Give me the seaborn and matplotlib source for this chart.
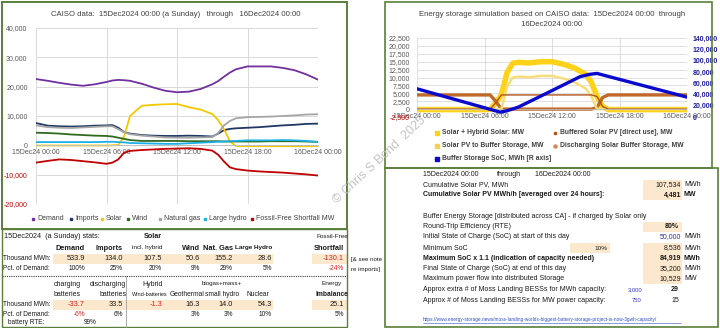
import numpy as np
import pandas as pd
import matplotlib
matplotlib.use("Agg")
import matplotlib.pyplot as plt
import seaborn as sns
from matplotlib.patches import Rectangle
from matplotlib.lines import Line2D

sns.set_theme(style="white")
plt.rcParams['font.family'] = ['Liberation Sans', 'DejaVu Sans']

# ---------------- data: left chart (CAISO, MW) ----------------
hours_l = [0, 1, 2, 3, 4, 5, 6, 6.5, 7, 7.5, 8, 9, 10, 11, 12, 13, 14, 15, 15.5, 16, 16.5,
           17, 18, 19, 20, 21, 22, 23, 24]
demand = [22600, 22000, 21300, 20700, 20300, 20800, 21600, 22100, 22300, 22200, 22000, 21000,
          19700, 18600, 18100, 18300, 19200, 20800, 21900, 23400, 24800, 25900, 26900, 26900,
          26900, 26400, 25600, 24200, 22400]
imports = [7600, 6700, 6500, 6400, 6500, 6700, 6800, 6900, 6000, 4500, 4000, 3500, 3300, 3200,
           3200, 3300, 3200, 3000, 4000, 5200, 5600, 5800, 6000, 6200, 6500, 6800, 7000, 7300, 7400]
solar = [-50, -50, -50, -50, -50, -50, -50, 0, 100, 3000, 10000, 13500, 13800, 14000, 14100,
         13000, 12200, 10700, 8600, 5500, 1400, -200, -300, -300, -300, -300, -300, -300, -300]
wind = [4300, 4200, 4000, 3700, 3500, 3300, 3200, 3000, 2600, 2200, 1800, 1500, 1500, 1500, 1500,
        1400, 1400, 1400, 1400, 1300, 1300, 1300, 1300, 1300, 1400, 1400, 1400, 1300, 1200]
natgas = [6800, 6200, 6000, 5900, 6100, 6300, 6500, 6500, 5500, 4500, 3800, 3300, 3000, 2700,
          2600, 2600, 2700, 2800, 4200, 6800, 8300, 9200, 9600, 9700, 9800, 10000, 10200, 10500, 10600]
hydro = [1100, 1100, 1100, 1100, 1100, 1100, 1200, 1200, 1100, 1000, 800, 700, 600, 500, 500,
         700, 900, 1100, 1200, 1300, 1400, 1500, 1700, 1700, 1700, 1800, 1700, 1500, 1100]
shortfall = [-5900, -5300, -4800, -5000, -5400, -5800, -6300, -5900, -4800, -2500, -1900, -1600,
             -1400, -1200, -1100, -1000, -1200, -1800, -3200, -5500, -7500, -8100, -8600, -8900,
             -9100, -9300, -9600, -9900, -10300]
left_names = ["Demand", "Imports", "Solar", "Wind", "Natural gas", "Large hydro",
              "Fossil-Free Shortfall MW"]
left_colors = ["#7030A0", "#1F3864", "#F5C800", "#2E6B1F", "#A6A6A6", "#1CB0E8", "#C00000"]

# ---------------- data: right chart (storage simulation) ----------------
hours_r = [0, 2, 4, 6, 6.5, 7, 7.5, 8, 8.5, 9, 10, 11, 12, 13, 14, 15, 15.5, 16, 16.5, 17, 18,
           20, 22, 24]
solar_hybrid = [-150, -150, -150, -150, -100, 2000, 4500, 11500, 14500, 14800, 14600, 15000,
                15000, 14200, 13000, 11000, 8500, 4000, 800, -150, -150, -150, -150, -150]
buffered_direct = [0, 0, 0, 0, 0, 2000, 4481, 4481, 4481, 4481, 4481, 4481, 4481, 4481, 4481,
                   4481, 4481, 4000, 800, 0, 0, 0, 0, 0]
to_buffer = [0, 0, 0, 0, 0, 0, 0, 7000, 10000, 10300, 10100, 10500, 10500, 9700, 8500, 6500,
             4000, 0, 0, 0, 0, 0, 0, 0]
discharging = [4481, 4481, 4481, 4481, 4481, 2481, 0, 0, 0, 0, 0, 0, 0, 0, 0, 0, 0, 481, 3681,
               4481, 4481, 4481, 4481, 4481]
soc_hours = [0, 7.4, 8.0, 9.0, 10.9, 12.7, 14.5, 15.3, 16.0, 24]
soc = [50000, 8536, 11000, 17500, 36000, 53700, 71500, 75500, 77200, 35200]

xtick_labels = ["15Dec24 00:00", "15Dec24 06:00", "15Dec24 12:00", "15Dec24 18:00",
                "16Dec24 00:00"]

W, H = 720, 328
fig = plt.figure(figsize=(7.2, 3.28), dpi=100)
fig.patch.set_facecolor("white")


def fx(x):
    return x / W


def fy(y):
    return 1 - y / H


def txt(x, y, s, ha="left", size=5, weight="normal", color="#1A1A1A", **kw):
    fig.text(fx(x), fy(y), s, ha=ha, va="center", fontsize=size, fontweight=weight,
             color=color, **kw)


def rect(x0, y0, x1, y1, **kw):
    fig.add_artist(Rectangle((fx(x0), fy(y1)), (x1 - x0) / W, (y1 - y0) / H,
                             transform=fig.transFigure, **kw))


def hline(x0, x1, y, **kw):
    fig.add_artist(Line2D([fx(x0), fx(x1)], [fy(y), fy(y)], transform=fig.transFigure, **kw))


def vline(x, y0, y1, **kw):
    fig.add_artist(Line2D([fx(x), fx(x)], [fy(y0), fy(y1)], transform=fig.transFigure, **kw))


GRID = "#D9D9D9"
TICK = "#595959"
FRAME = "#5A7F3A"

# ================= left chart =================
ax1 = fig.add_axes([fx(36), fy(204), (318 - 36) / W, (204 - 28) / H])
rows = []
for name, vals in zip(left_names, [demand, imports, solar, wind, natgas, hydro, shortfall]):
    for h, v in zip(hours_l, vals):
        rows.append((name, h, v))
df_l = pd.DataFrame(rows, columns=["series", "hour", "MW"])
sns.lineplot(data=df_l, x="hour", y="MW", hue="series", hue_order=left_names,
             palette=dict(zip(left_names, left_colors)), linewidth=1.3, legend=False,
             ax=ax1, estimator=None)
ax1.set_xlim(0, 24)
ax1.set_ylim(-20000, 40000)
ax1.set_xticks([0, 6, 12, 18, 24])
ax1.set_xticklabels(xtick_labels)
yt = list(range(-20000, 40001, 10000))
ax1.set_yticks(yt)
ax1.set_yticklabels([f"{v:,}" for v in yt])
for lab, v in zip(ax1.get_yticklabels(), yt):
    lab.set_color("#C00000" if v < 0 else TICK)
ax1.set_xlabel("")
ax1.set_ylabel("")
ax1.grid(True, color=GRID, linewidth=0.7)
ax1.set_axisbelow(True)
for s in ["top", "right", "left"]:
    ax1.spines[s].set_visible(False)
ax1.spines["bottom"].set_position(("data", 0))
ax1.spines["bottom"].set_color("#BFBFBF")
ax1.spines["bottom"].set_linewidth(0.7)
ax1.tick_params(axis="x", length=0, pad=3, labelsize=5, labelcolor=TICK)
ax1.tick_params(axis="y", length=0, pad=6, labelsize=5)
txt(176, 14, "CAISO data:  15Dec2024 00:00 (a Sunday)   through   16Dec2024 00:00", ha="center",
    size=5.6, color="#404040")

# left legend (manual, Excel-like bullets)
leg_x = [33, 71, 102, 128, 160, 205, 252]
for x, name, c in zip(leg_x, left_names, left_colors):
    fig.add_artist(Line2D([fx(x)], [fy(219)], marker="s", markersize=2, color=c, linestyle="none",
                          transform=fig.transFigure))
    txt(x + 4, 219, name, size=5, color="#404040")

rect(2, 2, 347, 229, fill=False, edgecolor=FRAME, linewidth=1.4)

# ================= left table =================
SHADE = "#FCE8CC"
RED = "#E02020"
cols = [85, 123, 162, 200, 233, 272, 344]
rect(53, 254, 273, 264, facecolor=SHADE, edgecolor="none")
rect(312, 254, 347, 264, facecolor=SHADE, edgecolor="none")
rect(53, 300, 273, 310, facecolor=SHADE, edgecolor="none")
rect(312, 300, 347, 310, facecolor=SHADE, edgecolor="none")

txt(4, 237, "15Dec2024  (a Sunday) stats:", size=5.2)
txt(153, 237, "Solar", ha="center", size=5.2, weight="bold")
txt(332, 237, "Fossil-Free", ha="center", size=4.6)
heads = ["Demand", "Imports", "incl. hybrid", "Wind", "Nat. Gas", "Large Hydro", "Shortfall"]
for c, h in zip(cols, heads):
    if h == "incl. hybrid":
        txt(c, 248, h, ha="right", size=4.6)
    elif h == "Large Hydro":
        txt(c, 248, h, ha="right", size=4.6, weight="bold")
    else:
        txt(c, 248, h, ha="right", size=5.3, weight="bold")
vals1 = ["533.9", "134.0", "107.5", "50.6", "155.2", "28.6", "-130.1"]
pct1 = ["100%", "25%", "20%", "9%", "29%", "5%", "-24%"]
txt(3, 259, "Thousand MWh:", size=4.7)
txt(3, 269, "Pct. of Demand:", size=4.7)
for c, v in zip(cols, vals1):
    txt(c, 259, v, ha="right", size=5.3, color=RED if v.startswith("-") else "#1A1A1A")
for c, v in zip(cols, pct1):
    txt(c, 269, v, ha="right", size=4.7, color=RED if v.startswith("-") else "#1A1A1A")
txt(351, 259, "[& see note", size=4.4)
txt(351, 269, "re imports]", size=4.4)
hline(2, 347, 276, linestyle=(0, (1, 1)), color="#404040", linewidth=0.8)
vline(126, 276, 328, color="#A0A0A0", linewidth=0.6)

txt(67, 284, "charging", ha="center", size=5)
txt(108, 284, "discharging", ha="center", size=5)
txt(153, 284, "Hybrid", ha="center", size=5)
txt(222, 284, "biogas+mass+", ha="center", size=4.4)
txt(332, 284, "Energy", ha="center", size=4.6)
txt(67, 295, "batteries", ha="center", size=5)
txt(113, 295, "batteries", ha="center", size=5)
txt(150, 295, "Wind-batteries", ha="center", size=4.0)
txt(187, 295, "Geothermal", ha="center", size=4.8)
txt(222, 295, "small hydro", ha="center", size=4.8)
txt(258, 295, "Nuclear", ha="center", size=4.8)
txt(332, 295, "Imbalance", ha="center", size=4.8, weight="bold")
vals2 = ["-33.7", "33.5", "-1.3", "16.3", "14.0", "54.3", "25.1"]
pct2 = ["-6%", "6%", "", "3%", "3%", "10%", "5%"]
txt(3, 305, "Thousand MWh:", size=4.7)
txt(3, 315, "Pct. of Demand:", size=4.7)
for c, v in zip(cols, vals2):
    txt(c, 305, v, ha="right", size=5.3, color=RED if v.startswith("-") else "#1A1A1A")
for c, v in zip(cols, pct2):
    txt(c, 315, v, ha="right", size=4.7, color=RED if v.startswith("-") else "#1A1A1A")
txt(8, 323, "battery RTE:", size=4.7)
txt(90, 323, "99%", ha="center", size=4.7)
rect(2, 229, 347, 327, fill=False, edgecolor=FRAME, linewidth=1.0)

# ================= right chart =================
ax2 = fig.add_axes([fx(417), fy(117), (687 - 417) / W, (117 - 38) / H])
right_names = ["Solar + Hybrid Solar: MW", "Buffered Solar PV [direct use], MW",
               "Solar PV to Buffer Storage, MW", "Discharging Solar Buffer Storage, MW"]
right_colors = ["#FFD21A", "#B0561A", "#F8DE7A", "#C0692A"]
right_lw = [4.0, 1.0, 1.8, 2.4]
rrows = []
for name, vals in zip(right_names, [solar_hybrid, buffered_direct, to_buffer, discharging]):
    for h, v in zip(hours_r, vals):
        rrows.append((name, h, v))
df_r = pd.DataFrame(rrows, columns=["series", "hour", "MW"])
draw_order = [0, 3, 2, 1]
for i in draw_order:
    sub = df_r[df_r["series"] == right_names[i]]
    sns.lineplot(data=sub, x="hour", y="MW", color=right_colors[i], linewidth=right_lw[i],
                 ax=ax2, legend=False, estimator=None)
ax2.set_xlim(0, 24)
ax2.set_ylim(-2500, 22500)
ax2.set_xticks([0, 6, 12, 18, 24])
ax2.set_xticklabels(xtick_labels)
yt2 = list(range(-2500, 22501, 2500))
ax2.set_yticks(yt2)
ax2.set_yticklabels([f"{v:,}" for v in yt2])
for lab, v in zip(ax2.get_yticklabels(), yt2):
    lab.set_color("#C00000" if v < 0 else TICK)
ax2.set_xlabel("")
ax2.set_ylabel("")
ax2.grid(True, color=GRID, linewidth=0.6)
ax2.set_axisbelow(True)
for s in ["top", "right", "left"]:
    ax2.spines[s].set_visible(False)
ax2.spines["bottom"].set_position(("data", 0))
ax2.spines["bottom"].set_color("#BFBFBF")
ax2.spines["bottom"].set_linewidth(0.6)
ax2.tick_params(axis="x", length=0, pad=3, labelsize=5, labelcolor=TICK)
ax2.tick_params(axis="y", length=0, pad=5, labelsize=5)

ax2r = ax2.twinx()
df_soc = pd.DataFrame({"hour": soc_hours, "SoC": soc})
sns.lineplot(data=df_soc, x="hour", y="SoC", color="#0A0ACD", linewidth=2.4, ax=ax2r,
             legend=False, estimator=None)
ax2r.set_ylim(0, 140000)
yt3 = list(range(0, 140001, 20000))
ax2r.set_yticks(yt3)
ax2r.set_yticklabels([f"{v:,}" for v in yt3])
ax2r.set_ylabel("")
ax2r.grid(False)
for s in ax2r.spines.values():
    s.set_visible(False)
ax2r.tick_params(axis="y", length=0, pad=4, labelsize=5, labelcolor="#1E1E9A")
for lab in ax2r.get_yticklabels():
    lab.set_fontweight("bold")

txt(552, 14, "Energy storage simulation based on CAISO data:  15Dec2024 00:00  through",
    ha="center", size=5.6, color="#404040")
txt(552, 24, "16Dec2024 00:00", ha="center", size=5.6, color="#404040")

leg_items = [(437, 133, right_names[0], "#FFD21A", "s", 3.2),
             (555, 133, right_names[1], "#B0561A", "s", 1.5),
             (437, 146, right_names[2], "#F8D050", "s", 2.2),
             (555, 146, right_names[3], "#D08A5A", "o", 2.2),
             (437, 159, "Buffer Storage SoC, MWh [R axis]", "#0A0ACD", "s", 2.2)]
for x, y, name, c, m, ms in leg_items:
    fig.add_artist(Line2D([fx(x)], [fy(y)], marker=m, markersize=ms, color=c, linestyle="none",
                          transform=fig.transFigure))
    txt(x + 5, y, name, size=4.9, weight="bold", color="#404040")

rect(385, 2, 712, 168, fill=False, edgecolor=FRAME, linewidth=1.2)

# ================= right table =================
rx = 423
vr = 681
ur = 684
shade_rows = [185, 195, 227, 248, 258.5, 268.5, 279]
for y in shade_rows:
    rect(643, y - 5.2, 682, y + 5.2, facecolor=SHADE, edgecolor="none")
rect(570, 248 - 5.2, 610, 248 + 5.2, facecolor=SHADE, edgecolor="none")

txt(rx, 174, "15Dec2024 00:00", size=5)
txt(497, 174, "through", size=5)
txt(535, 174, "16Dec2024 00:00", size=5)
txt(rx, 185, "Cumulative Solar PV, MWh", size=5)
txt(vr, 185, "107,534", ha="right", size=5)
txt(ur, 185, "MWh", size=5)
txt(rx, 195, "Cumulative Solar PV MWh/h [averaged over 24 hours]:", size=5, weight="bold")
txt(vr, 195, "4,481", ha="right", size=5, weight="bold")
txt(ur, 195, "MW", size=5, weight="bold")
txt(rx, 217, "Buffer Energy Storage [distributed across CA] - if charged by Solar only", size=5)
txt(rx, 227, "Round-Trip Efficiency (RTE)", size=5)
txt(vr - 2, 227, "80%", ha="right", size=5, weight="bold")
txt(rx, 237, "Initial State of Charge (SoC) at start of this day", size=5)
txt(vr, 237, "50,000", ha="right", size=5, color="#2E2EA8")
txt(ur, 237, "MWh", size=5)
txt(rx, 248, "Minimum SoC", size=5)
txt(607, 248, "10%", ha="right", size=4.6)
txt(vr, 248, "8,536", ha="right", size=5)
txt(ur, 248, "MWh", size=5)
txt(rx, 258.5, "Maximum SoC x 1.1 (indication of capacity needed)", size=5, weight="bold")
txt(vr, 258.5, "84,919", ha="right", size=5, weight="bold")
txt(ur, 258.5, "MWh", size=5, weight="bold")
txt(rx, 268.5, "Final State of Charge (SoC) at end of this day", size=5)
txt(vr, 268.5, "35,200", ha="right", size=5)
txt(ur, 268.5, "MWh", size=5)
txt(rx, 279, "Maximum power flow into distributed Storage", size=5)
txt(vr, 279, "10,529", ha="right", size=5)
txt(ur, 279, "MW", size=5)
txt(rx, 289.5, "Approx extra # of Moss Landing BESSs for MWh capacity:", size=5)
txt(642, 289.5, "3,000", ha="right", size=4.2, color="#3333CC")
txt(vr - 2, 289.5, "29", ha="right", size=5, weight="bold")
txt(rx, 300, "Approx # of Moss Landing BESSs for MW power capacity:", size=5)
txt(642, 300, "750", ha="right", size=4.2, color="#3333CC")
txt(vr - 2, 300, "15", ha="right", size=5)
fig.text(fx(rx), fy(320),
         "https://www.energy-storage.news/moss-landing-worlds-biggest-battery-storage-project-is-now-3gwh-capacity/",
         ha="left", va="center", fontsize=3.4, color="#3050C0")
hline(rx, 681, 322.5, color="#3050C0", linewidth=0.4)
rect(385, 168, 718, 327, fill=False, edgecolor=FRAME, linewidth=1.2)

# watermark
fig.text(fx(380), fy(160), "\u00a9 Chris S Bond  2025", rotation=43, ha="center", va="center",
         fontsize=9, color="#C4C4C4")

fig.savefig("out.png", dpi=100, facecolor="white")
